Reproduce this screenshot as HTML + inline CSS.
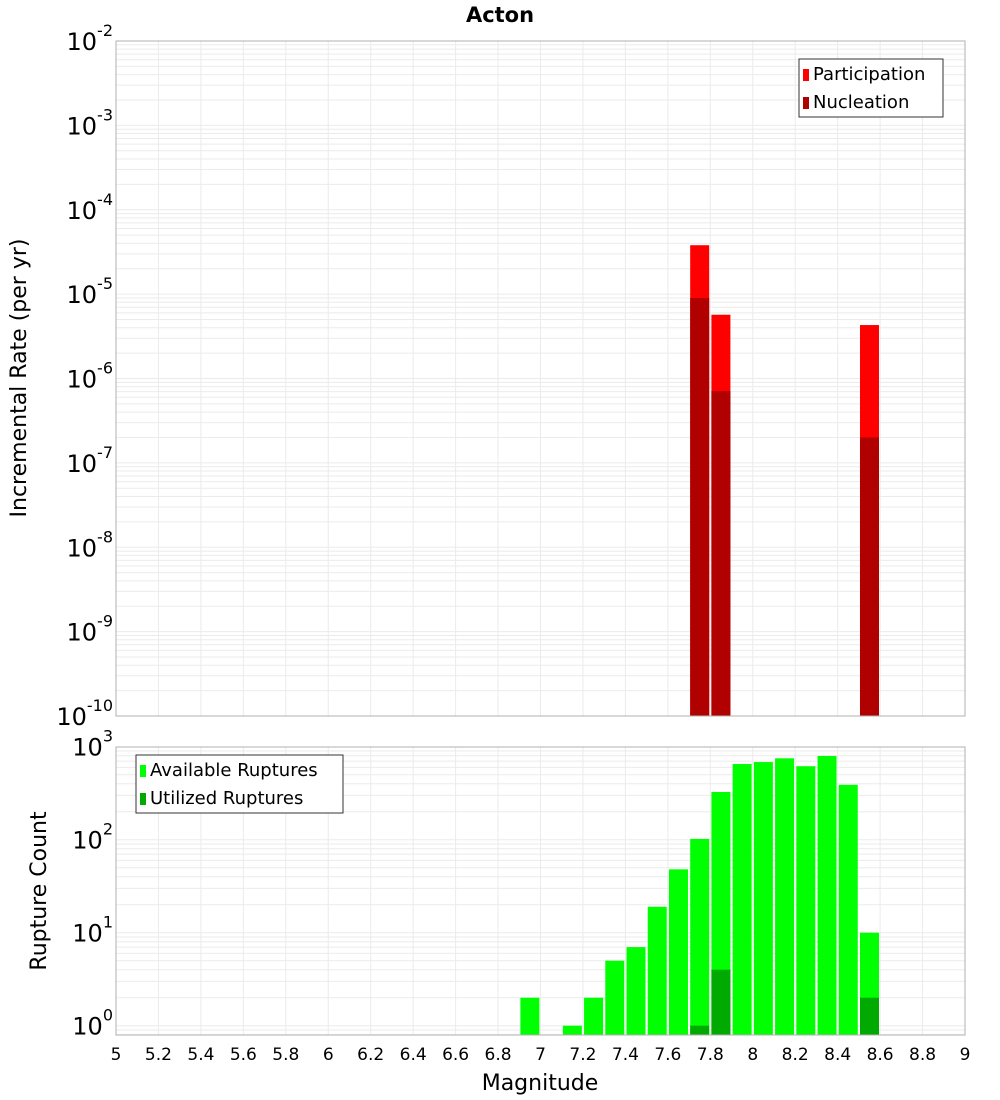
<!DOCTYPE html>
<html><head><meta charset="utf-8"><style>
body{margin:0;background:#fff;}
svg{display:block;font-family:"DejaVu Sans","Liberation Sans",sans-serif;}
</style></head><body>
<svg id="c" width="1000" height="1100"></svg>
<script>
const magBins=[6.95,7.05,7.15,7.25,7.35,7.45,7.55,7.65,7.75,7.85,7.95,8.05,8.15,8.25,8.35,8.45,8.55];
const availableCounts=[2,0,1,2,5,7,19,48,102,326,651,684,750,617,795,389,10];
const utilizedCounts=[0,0,0,0,0,0,0,0,1,4,0,0,0,0,0,0,2];
const rateMags=[7.75,7.85,8.55];
const participationRates=[3.8e-5,5.7e-6,4.3e-6];
const nucleationRates=[9e-6,7.1e-7,2.0e-7];
const xTicks=[5,5.2,5.4,5.6,5.8,6,6.2,6.4,6.6,6.8,7,7.2,7.4,7.6,7.8,8,8.2,8.4,8.6,8.8,9];
const topExps=[-2,-3,-4,-5,-6,-7,-8,-9,-10];
const botExps=[3,2,1,0];

const NS="http://www.w3.org/2000/svg";
const svg=document.getElementById('c');
function el(t,a,p){const e=document.createElementNS(NS,t);for(const k in a)e.setAttribute(k,a[k]);(p||svg).appendChild(e);return e;}
const X0=116,X1=965;
const x=m=>X0+(m-5)/4*(X1-X0);
const T0=41,T1=716;
const yTop=v=>T0+(-2-Math.log10(v))*(T1-T0)/8;
const B0=747,B1=1035,BD=93,Bone=1025.7;
const yBot=v=>Bone-Math.log10(v)*BD;

function grid(yf,lo,hi,top,bot,name){
  const g=el('g',{});
  
  
  for(let e=lo;e<=hi;e++)for(let k=1;k<10;k++){const yy=yf(k*Math.pow(10,e));if(yy<top||yy>bot)continue;
    el('line',{x1:X0,x2:X1,y1:yy,y2:yy,stroke:'#ebebeb','stroke-width':1},g);}
  xTicks.forEach(t=>el('line',{x1:x(t),x2:x(t),y1:top,y2:bot,stroke:'#ebebeb','stroke-width':1},g));
}
grid(yTop,-10,-3,T0,T1,'top-grid');
grid(yBot,-1,2,B0,B1,'bottom-grid');

const bw=19;
rateMags.forEach((m,i)=>{
  let r=el('rect',{x:x(m)-bw/2,y:yTop(participationRates[i]),width:bw,height:T1-yTop(participationRates[i]),fill:'#ff0000'});
  
  
  r=el('rect',{x:x(m)-bw/2,y:yTop(nucleationRates[i]),width:bw,height:T1-yTop(nucleationRates[i]),fill:'#b00000'});
  
  
});
magBins.forEach((m,i)=>{
  if(availableCounts[i]>0){const r=el('rect',{x:x(m)-bw/2,y:yBot(availableCounts[i]),width:bw,height:B1-yBot(availableCounts[i]),fill:'#00ff00'});
    
    }
  if(utilizedCounts[i]>0){const r=el('rect',{x:x(m)-bw/2,y:yBot(utilizedCounts[i]),width:bw,height:B1-yBot(utilizedCounts[i]),fill:'#00aa00'});
    
    }
});
el('rect',{x:X0,y:T0,width:X1-X0,height:T1-T0,fill:'none',stroke:'#b0b0b0'});
el('rect',{x:X0,y:B0,width:X1-X0,height:B1-B0,fill:'none',stroke:'#b0b0b0'});

function pow10(yy,e,name){
  const t=el('text',{x:113,y:yy+9,'text-anchor':'end','font-size':24,fill:'#000'});
  
  
  t.textContent='10';
  const s=el('tspan',{dy:-14,'font-size':16},t);s.textContent=String(e);
}
topExps.forEach(e=>pow10(yTop(Math.pow(10,e)),e,'top-y-tick'));
botExps.forEach(e=>pow10(yBot(Math.pow(10,e)),e,'bottom-y-tick'));
xTicks.forEach(t=>{const tx=el('text',{x:x(t),y:1060,'text-anchor':'middle','font-size':17,fill:'#000'});
  
  
  tx.textContent=String(t);});

function txt(s,a,name){const t=el('text',a);t.textContent=s;return t;}
txt('Acton',{x:500,y:22,'text-anchor':'middle','font-size':21,'font-weight':'bold'},'chart-title');
txt('Magnitude',{x:540,y:1090,'text-anchor':'middle','font-size':22},'x-axis-title');
txt('Incremental Rate (per yr)',{x:0,y:0,'text-anchor':'middle','font-size':22,transform:'translate(26,378) rotate(-90)'},'top-y-axis-title');
txt('Rupture Count',{x:0,y:0,'text-anchor':'middle','font-size':22,transform:'translate(46,891) rotate(-90)'},'bottom-y-axis-title');

function legend(x0,y0,w,items,name){
  const g=el('g',{});
  el('rect',{x:x0,y:y0,width:w,height:58,fill:'#fff',stroke:'#333'},g);
  items.forEach((it,i)=>{
    el('rect',{x:x0+4,y:y0+10+i*28,width:6,height:12,fill:it[1]},g);
    const t=el('text',{x:x0+14,y:y0+21+i*28,'font-size':18},g);t.textContent=it[0];
  });
}
legend(799,59,144,[['Participation','#ff0000'],['Nucleation','#b00000']],'top-legend');
legend(136,755,207,[['Available Ruptures','#00ff00'],['Utilized Ruptures','#00aa00']],'bottom-legend');
</script>
</body></html>
